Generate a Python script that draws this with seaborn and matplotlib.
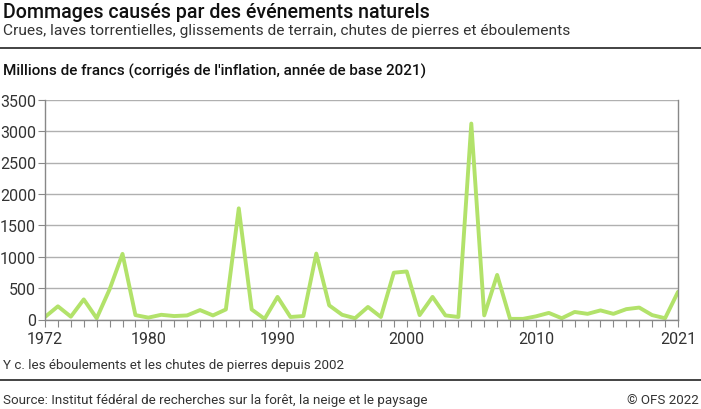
import numpy as np
import pandas as pd
import seaborn as sns
import matplotlib.pyplot as plt
from matplotlib.lines import Line2D
from matplotlib.ticker import MultipleLocator

# data (millions CHF)
years = list(range(1972, 2022))
damages = [40, 210, 45, 320, 20, 480, 1045, 70, 30, 75,
           55, 65, 150, 65, 160, 1770, 160, 10, 360, 40,
           55, 1050, 225, 75, 20, 200, 40, 745, 765, 70,
           360, 65, 40, 3120, 65, 710, 10, 10, 50, 105,
           20, 120, 90, 145, 90, 165, 190, 70, 20, 440]
major_years = [1972, 1980, 1990, 2000, 2010, 2021]
y_ticks = [0, 500, 1000, 1500, 2000, 2500, 3000, 3500]

df = pd.DataFrame({"annee": years, "dommages": damages})

sns.set_style("white")
plt.rcParams['font.family'] = ['Roboto', 'DejaVu Sans']

W, H = 701, 410
fig = plt.figure(figsize=(W / 100, H / 100), dpi=100)

ax = fig.add_axes([45 / W, (H - 320.5) / H, (678 - 45) / W, (320.5 - 100.7) / H])
sns.lineplot(data=df, x="annee", y="dommages", ax=ax, color="#b2e26a", linewidth=2.8)

ax.set_xlim(1972, 2021)
ax.set_ylim(0, 3500)
ax.set_xticks(major_years)
ax.xaxis.set_minor_locator(MultipleLocator(1))
ax.set_yticks(y_ticks)
ax.set_xlabel("")
ax.set_ylabel("")
ax.grid(axis="y", color="#b0b0b0", linewidth=1)
ax.set_axisbelow(True)
for s in ax.spines.values():
    s.set_color("#888888")
    s.set_linewidth(1)
ax.spines["top"].set_visible(False)
ax.tick_params(axis="x", which="both", length=5, width=0.8, color="#888888",
               labelsize=11.5, labelcolor="#333333", pad=3.5, bottom=True)
ax.tick_params(axis="y", length=5, width=0.8, color="#888888", left=True,
               labelsize=11.5, labelcolor="#333333", pad=1.5)

# texts
fig.text(3 / W, 1 - 17.5 / H, "Dommages causés par des événements naturels",
         fontsize=14.1, fontweight="medium", color="#111111", va="baseline")
fig.text(3 / W, 1 - 35 / H,
         "Crues, laves torrentielles, glissements de terrain, chutes de pierres et éboulements",
         fontsize=11.15, color="#333333", va="baseline")
fig.add_artist(Line2D([0, 1], [1 - 49 / H, 1 - 49 / H], color="#222222", linewidth=1.2))
fig.text(3 / W, 1 - 75.5 / H, "Millions de francs (corrigés de l'inflation, année de base 2021)",
         fontsize=11, fontweight="medium", color="#111111", va="baseline")
fig.text(3 / W, 1 - 369 / H, "Y c. les éboulements et les chutes de pierres depuis 2002",
         fontsize=9.6, color="#333333", va="baseline")
fig.add_artist(Line2D([0, 1], [1 - 381 / H, 1 - 381 / H], color="#222222", linewidth=1.2))
fig.text(3 / W, 1 - 404 / H, "Source: Institut fédéral de recherches sur la forêt, la neige et le paysage",
         fontsize=9.6, color="#333333", va="baseline")
fig.text(1 - 2 / W, 1 - 404 / H, "© OFS 2022", fontsize=9.6,
         color="#333333", va="baseline", ha="right")

fig.savefig("out.png", dpi=100)
